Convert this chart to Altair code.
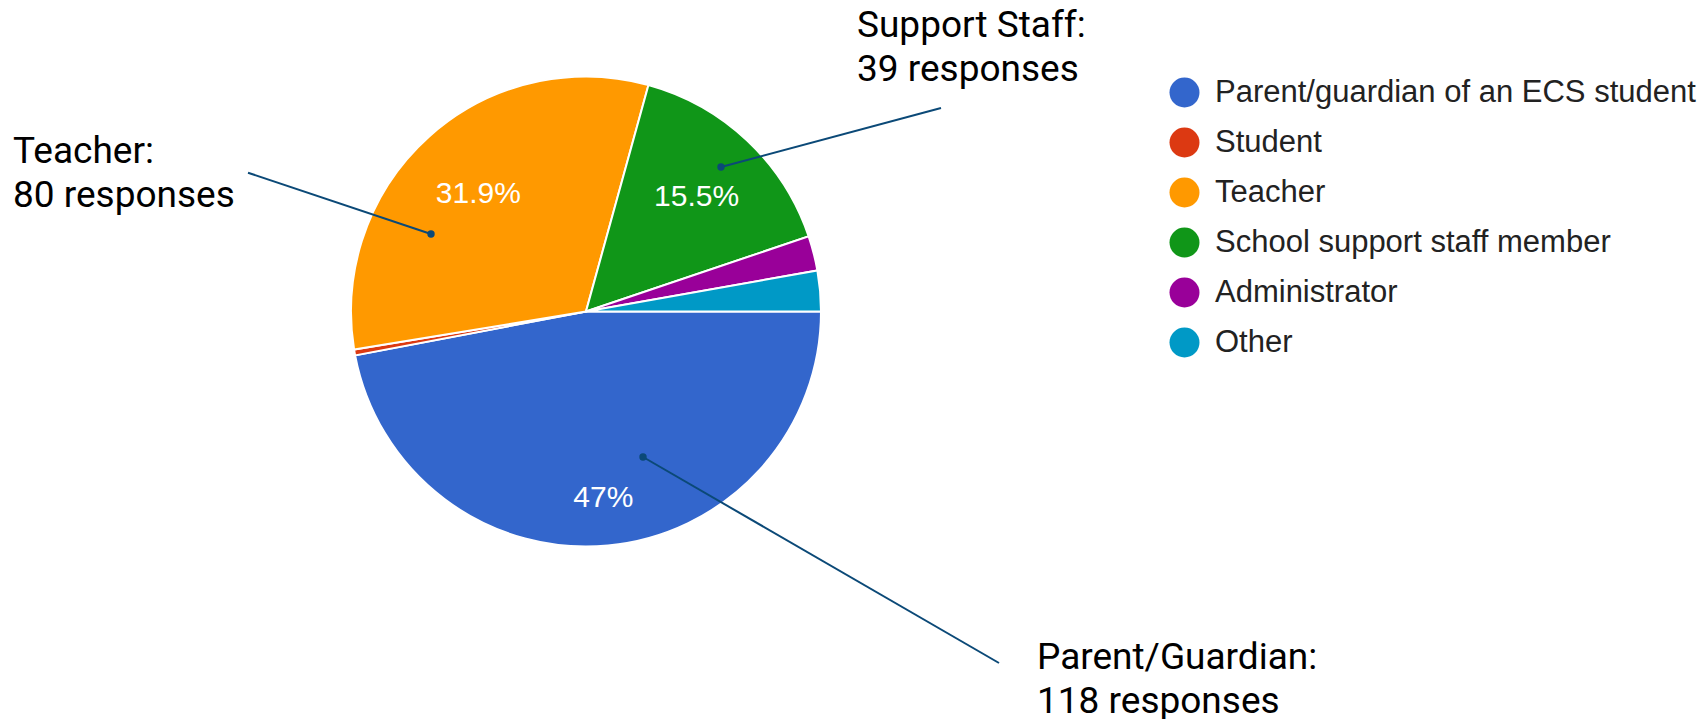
import math
import altair as alt
import pandas as pd

# ---- data ----
categories = ["Parent/guardian of an ECS student", "Student", "Teacher",
              "School support staff member", "Administrator", "Other"]
counts = [118, 1, 80, 39, 6, 7]
colors = ["#3366cc", "#dc3912", "#ff9900", "#109618", "#990099", "#0099c6"]

# callouts (short names and the category they refer to)
callout_names = ["Teacher", "Support Staff", "Parent/Guardian"]
callout_categories = ["Teacher", "School support staff member",
                      "Parent/guardian of an ECS student"]

# ---- layout (chart pixel space) ----
W, H = 1692, 711
CX, CY, R = 578, 303.5, 235
LINE_H = 44
callout_text_xy = [(5, 155), (849, 29), (1029, 661)]
callout_line_from = [(240, 164.7), (933, 100), (991, 655)]
callout_dot = [(423, 226), (713, 159), (635, 449)]

pie_df = pd.DataFrame({"category": categories, "count": counts,
                       "idx": list(range(len(categories)))})
total = sum(counts)

count_of = dict(zip(categories, counts))
callout_df = pd.DataFrame({
    "x1": [p[0] for p in callout_line_from],
    "y1": [p[1] for p in callout_line_from],
    "x2": [p[0] for p in callout_dot],
    "y2": [p[1] for p in callout_dot],
})
text_rows = []
for (n, c), (tx, ty) in zip(zip(callout_names, callout_categories), callout_text_xy):
    text_rows.append({"label": f"{n}:", "tx": tx, "ty": ty})
    text_rows.append({"label": f"{count_of[c]} responses", "tx": tx, "ty": ty + LINE_H})
callout_text_df = pd.DataFrame(text_rows)

xs = alt.Scale(domain=[0, W], range=[0, W])
ys = alt.Scale(domain=[0, H], range=[0, H])
theta_scale = alt.Scale(domain=[0, total], range=[math.pi / 2, math.pi / 2 + 2 * math.pi])

base = alt.Chart(pie_df).transform_window(
    cum="sum(count)", sort=[alt.SortField("idx", order="ascending")], frame=[None, 0]
).transform_calculate(
    start="datum.cum - datum.count",
    mid="datum.cum - datum.count / 2",
    pct=f"datum.count / {total}",
).transform_calculate(
    lab="datum.pct >= 0.05 ? format(datum.pct, '.3~p') : ''",
    lab_r="datum.pct > 0.4 ? 185 : 161",
)

arcs = base.mark_arc(outerRadius=R, stroke="white", strokeWidth=2).encode(
    theta=alt.Theta("start:Q", scale=theta_scale, stack=None),
    theta2="cum:Q",
    x=alt.value(CX),
    y=alt.value(CY),
    color=alt.Color("category:N",
                    scale=alt.Scale(domain=categories, range=colors),
                    legend=alt.Legend(title=None, orient="none", legendX=1161, legendY=69,
                                      symbolType="circle", symbolSize=900,
                                      symbolStrokeWidth=0, symbolOpacity=1,
                                      labelFont="Arial", labelFontSize=31,
                                      labelColor="#222222", labelOffset=15,
                                      labelLimit=800, rowPadding=18, padding=0)),
)

pct_text = base.mark_text(font="Arial", fontSize=30, color="white",
                          align="center", baseline="middle", dy=2.5).encode(
    theta=alt.Theta("mid:Q", scale=theta_scale, stack=None),
    x=alt.value(CX),
    y=alt.value(CY),
    radius=alt.Radius("lab_r:Q", scale=None),
    text="lab:N",
)

lines = alt.Chart(callout_df).mark_rule(color="#0b4977", strokeWidth=2).encode(
    x=alt.X("x1:Q", scale=xs, axis=None),
    y=alt.Y("y1:Q", scale=ys, axis=None),
    x2="x2:Q",
    y2="y2:Q",
)

dots = alt.Chart(callout_df).mark_circle(color="#0b4977", size=55, opacity=1).encode(
    x=alt.X("x2:Q", scale=xs, axis=None),
    y=alt.Y("y2:Q", scale=ys, axis=None),
)

callout_text = alt.Chart(callout_text_df).mark_text(
    align="left", baseline="alphabetic", font="Roboto", fontSize=37, color="#000000"
).encode(
    x=alt.X("tx:Q", scale=xs, axis=None),
    y=alt.Y("ty:Q", scale=ys, axis=None),
    text="label:N",
)

chart = alt.layer(arcs, pct_text, lines, dots, callout_text).properties(
    width=W, height=H, padding=0, autosize=alt.AutoSizeParams(type="none")
).configure_view(stroke=None)

chart.save("out.html", embed_options={"renderer": "svg", "actions": False})
